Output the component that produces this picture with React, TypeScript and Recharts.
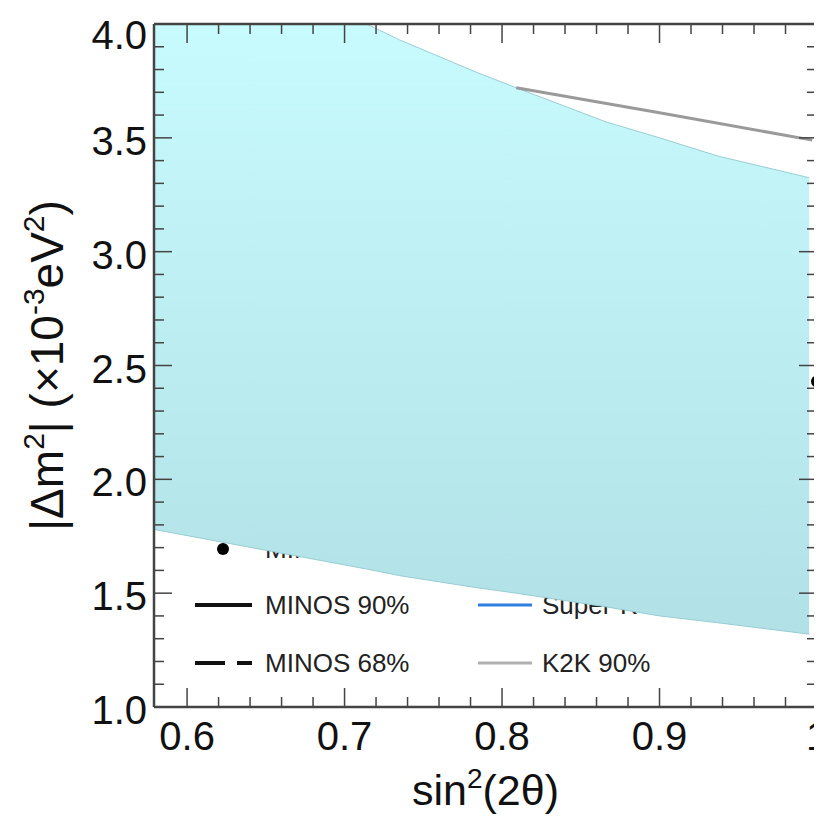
import React from "react";
import { ComposedChart, Area, Line, Scatter, XAxis, YAxis } from "recharts";

// allowed region (cyan band)
const X_BAND = [0.579, 0.714, 0.735, 0.783, 0.809, 0.866, 0.9, 0.937, 0.995];
const BAND_HIGH = [4.0, 4.0, 3.93, 3.79, 3.72, 3.57, 3.5, 3.42, 3.325];
const BAND_LOW = [1.78, 1.606, 1.577, 1.525, 1.5, 1.44, 1.4, 1.37, 1.32];

// K2K 90% contour, visible part
const K2K_X = [0.809, 0.9, 0.997];
const K2K_Y = [3.72, 3.61, 3.49];

// MINOS best fit
const BEST_X = [1.0];
const BEST_Y = [2.43];

const X_TICKS = [
  0.6, 0.62, 0.64, 0.66, 0.68, 0.7, 0.72, 0.74, 0.76, 0.78, 0.8,
  0.82, 0.84, 0.86, 0.88, 0.9, 0.92, 0.94, 0.96, 0.98, 1.0,
];
const X_MAJOR = [0.6, 0.7, 0.8, 0.9, 1.0];
const Y_TICKS = [
  1.0, 1.1, 1.2, 1.3, 1.4, 1.5, 1.6, 1.7, 1.8, 1.9, 2.0, 2.1, 2.2, 2.3, 2.4, 2.5,
  2.6, 2.7, 2.8, 2.9, 3.0, 3.1, 3.2, 3.3, 3.4, 3.5, 3.6, 3.7, 3.8, 3.9, 4.0,
];
const Y_MAJOR = [1.0, 1.5, 2.0, 2.5, 3.0, 3.5, 4.0];

const band = X_BAND.map((x, i) => ({ x, band: [BAND_LOW[i], BAND_HIGH[i]] }));
const k2k = K2K_X.map((x, i) => ({ x, y: K2K_Y[i] }));
const best = BEST_X.map((x, i) => ({ x, y: BEST_Y[i] }));

const FONT = "'Liberation Sans', Arial, Helvetica, sans-serif";
const AXIS = "#444";
const isMajor = (list: number[], v: number) => list.some((m) => Math.abs(m - v) < 1e-6);

const BottomTick = ({ x, y, payload }: any) => {
  const major = isMajor(X_MAJOR, payload.value);
  return (
    <g>
      <line x1={x} x2={x} y1={y} y2={y - (major ? 19 : 10)} stroke={AXIS} strokeWidth={1.5} />
      {major && (
        <text x={x} y={y + 43} textAnchor="middle" fontSize={40} fill="#111" style={{ fontFamily: FONT }}>
          {payload.value === 1 ? "1" : payload.value.toFixed(1)}
        </text>
      )}
    </g>
  );
};

const TopTick = ({ x, y, payload }: any) => {
  const major = isMajor(X_MAJOR, payload.value);
  return <line x1={x} x2={x} y1={y} y2={y + (major ? 19 : 10)} stroke={AXIS} strokeWidth={1.5} />;
};

const LeftTick = ({ x, y, payload }: any) => {
  const major = isMajor(Y_MAJOR, payload.value);
  // top label sits a little lower, as in the original frame
  const dy = payload.value >= 3.99 ? 25 : 17;
  return (
    <g>
      <line x1={x} x2={x + (major ? 18 : 10)} y1={y} y2={y} stroke={AXIS} strokeWidth={1.5} />
      {major && (
        <text x={x - 7} y={y + dy} textAnchor="end" fontSize={40} fill="#111" style={{ fontFamily: FONT }}>
          {payload.value.toFixed(1)}
        </text>
      )}
    </g>
  );
};

const RightTick = ({ x, y, payload }: any) => {
  const major = isMajor(Y_MAJOR, payload.value);
  return <line x1={x} x2={x - (major ? 18 : 10)} y1={y} y2={y} stroke={AXIS} strokeWidth={1.5} />;
};

const XTitle = ({ viewBox }: any) => {
  const cx = viewBox.x + viewBox.width / 2;
  return (
    <text x={cx} y={viewBox.y + 98} textAnchor="middle" fontSize={43} fill="#111" style={{ fontFamily: FONT }}>
      sin<tspan dy={-17} fontSize={28}>2</tspan>
      <tspan dy={17}>(2θ)</tspan>
    </text>
  );
};

const YTitle = ({ viewBox }: any) => {
  const cy = viewBox.y + viewBox.height / 2;
  const bx = 55;
  return (
    <text
      x={bx}
      y={cy}
      transform={`rotate(-90, ${bx}, ${cy})`}
      textAnchor="middle"
      fontSize={46}
      fill="#111"
      style={{ fontFamily: FONT }}
    >
      |Δm<tspan dy={-19} fontSize={30}>2</tspan>
      <tspan dy={19}>| (×10</tspan>
      <tspan dy={-19} fontSize={30}>-3</tspan>
      <tspan dy={19}>eV</tspan>
      <tspan dy={-19} fontSize={30}>2</tspan>
      <tspan dy={19}>)</tspan>
    </text>
  );
};

// legend sits under the chart surface, so the band covers part of it
const LegendLayer = () => (
  <svg width={814} height={808} style={{ position: "absolute", left: 0, top: 0 }}>
    <g style={{ fontFamily: FONT }} fontSize={26} fill="#222">
      <circle cx={215} cy={541} r={6} fill="#000" />
      <text x={257} y={550}>MINOS best fit</text>
      <line x1={470} x2={524} y1={541} y2={541} stroke="#e8404a" strokeWidth={3} />
      <text x={534} y={550}>Super-K 90%</text>

      <line x1={187} x2={244} y1={597} y2={597} stroke="#111" strokeWidth={4} />
      <text x={257} y={606}>MINOS 90%</text>
      <line x1={470} x2={524} y1={597} y2={597} stroke="#2f7fe0" strokeWidth={3} />
      <text x={534} y={606}>Super-K L/E 90%</text>

      <line x1={187} x2={244} y1={655} y2={655} stroke="#111" strokeWidth={4} strokeDasharray="30 12" />
      <text x={257} y={664}>MINOS 68%</text>
      <line x1={470} x2={524} y1={655} y2={655} stroke="#b0b0b0" strokeWidth={3} />
      <text x={534} y={664}>K2K 90%</text>
    </g>
  </svg>
);

export default function App() {
  return (
    <div style={{ position: "relative", width: 814, height: 808, overflow: "hidden" }}>
      <LegendLayer />
      <ComposedChart width={814} height={808} data={band} margin={{ top: 0, right: 0, bottom: 0, left: 0 }}>
        <defs>
          <linearGradient id="bandFill" x1="0" y1="0" x2="0" y2="1">
            <stop offset="0%" stopColor="#c8fbfd" />
            <stop offset="100%" stopColor="#b1e1e6" />
          </linearGradient>
        </defs>
        <XAxis
          dataKey="x"
          type="number"
          domain={[0.579, 1.0]}
          allowDataOverflow
          ticks={X_TICKS}
          interval={0}
          height={109}
          tickSize={0}
          tickMargin={0}
          tickLine={false}
          axisLine={{ stroke: AXIS, strokeWidth: 2.5 }}
          tick={(p: any) => <BottomTick {...p} />}
          label={{ content: (p: any) => <XTitle {...p} /> }}
        />
        <XAxis
          xAxisId="top"
          orientation="top"
          dataKey="x"
          type="number"
          domain={[0.579, 1.0]}
          allowDataOverflow
          ticks={X_TICKS}
          interval={0}
          height={16}
          tickSize={0}
          tickMargin={0}
          tickLine={false}
          axisLine={{ stroke: AXIS, strokeWidth: 2.5 }}
          tick={(p: any) => <TopTick {...p} />}
        />
        <YAxis
          type="number"
          domain={[1, 4]}
          allowDataOverflow
          ticks={Y_TICKS}
          interval={0}
          width={146}
          tickSize={0}
          tickMargin={0}
          tickLine={false}
          axisLine={{ stroke: AXIS, strokeWidth: 2.5 }}
          tick={(p: any) => <LeftTick {...p} />}
          label={{ content: (p: any) => <YTitle {...p} /> }}
        />
        <YAxis
          yAxisId="right"
          orientation="right"
          type="number"
          domain={[1, 4]}
          allowDataOverflow
          ticks={Y_TICKS}
          interval={0}
          width={5}
          tickSize={0}
          tickMargin={0}
          tickLine={false}
          axisLine={{ stroke: AXIS, strokeWidth: 2.5 }}
          tick={(p: any) => <RightTick {...p} />}
        />
        <Line
          data={k2k}
          dataKey="y"
          type="linear"
          stroke="#9a9a9a"
          strokeWidth={3}
          dot={false}
          isAnimationActive={false}
        />
        <Area
          dataKey="band"
          type="linear"
          fill="url(#bandFill)"
          fillOpacity={1}
          stroke="#98cdd3"
          strokeWidth={1}
          isAnimationActive={false}
        />
        <Scatter data={best} dataKey="y" fill="#000" shape={(p: any) => <circle cx={p.cx} cy={p.cy} r={6} fill="#000" />} isAnimationActive={false} />
      </ComposedChart>
    </div>
  );
}
